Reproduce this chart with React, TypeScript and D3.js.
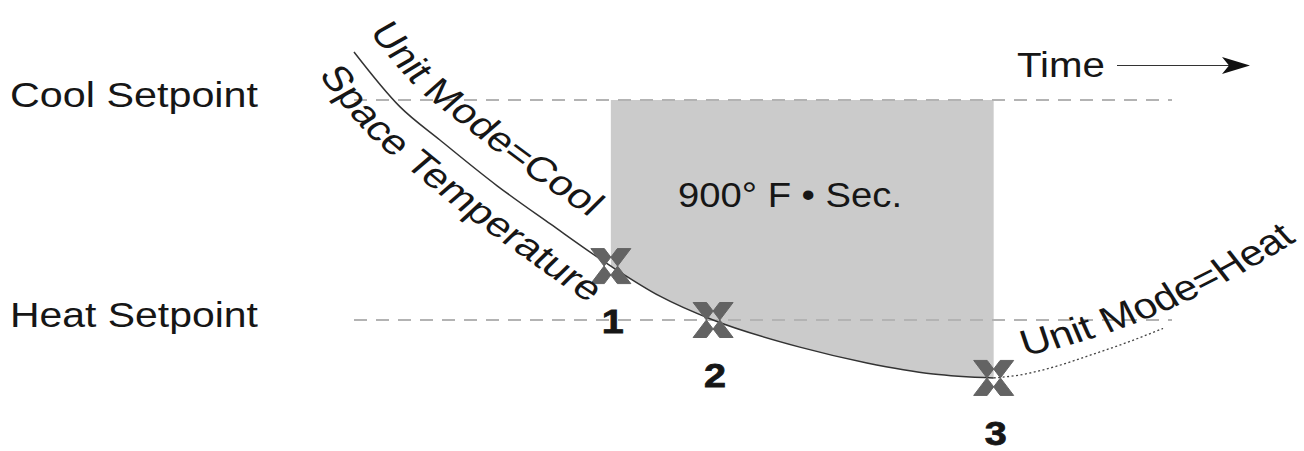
import React, { useEffect, useRef } from "react";
import * as d3 from "d3";

const WIDTH = 1304;
const HEIGHT = 451;

// Setpoints (°F)
const setpointLabels = ["Cool Setpoint", "Heat Setpoint"];
const setpointTemps = [74, 68];

// Space temperature while unit mode = cool (time in s, temperature in °F)
const coolModeTime = [0, 5.6, 10.5, 17.5, 24.0, 31.4, 37.4, 43.9, 54.5, 62.7, 70.8, 78.2];
const coolModeTemp = [75.31, 73.82, 72.91, 71.66, 70.62, 69.47, 68.65, 68.0, 67.26, 66.83, 66.53, 66.42];
// Space temperature after switching to unit mode = heat
const heatModeTime = [78.2, 81.4, 85.1, 90.0, 94.9, 98.9];
const heatModeTemp = [66.42, 66.5, 66.69, 67.04, 67.42, 67.77];

// Events
const eventLabels = ["1", "2", "3"];
const eventTimes = [31.4, 43.9, 78.2];
const eventTemps = [69.47, 68.0, 66.42];

const areaLabel = "900° F • Sec.";
const timeLabel = "Time";
const coolCurveLabel = "Unit Mode=Cool";
const tempCurveLabel = "Space Temperature";
const heatCurveLabel = "Unit Mode=Heat";

// annotation guide for the heat label (time, temp): start, control, end
const heatLabelGuideTime = [82, 98.5, 115.4];
const heatLabelGuideTemp = [67.02, 67.78, 70.18];

const FONT = '"Liberation Sans", Arial, Helvetica, sans-serif';
const SX = 1.2; // horizontal glyph stretch of the original artwork

export default function App() {
  const ref = useRef<SVGSVGElement>(null);

  useEffect(() => {
    const svg = d3.select(ref.current as SVGSVGElement);
    svg.selectAll("*").remove();

    const x = d3.scaleLinear().domain([0, 100]).range([354, 1172]);
    const y = d3.scaleLinear().domain([68, 74]).range([320, 100]);

    const defs = svg.append("defs");
    defs
      .append("clipPath")
      .attr("id", "shade-clip")
      .append("rect")
      .attr("x", x(eventTimes[0]))
      .attr("y", 0)
      .attr("width", x(eventTimes[2]) - x(eventTimes[0]) + 1)
      .attr("height", HEIGHT);

    const coolData: [number, number][] = coolModeTime.map((t, i) => [t, coolModeTemp[i]]);
    const heatData: [number, number][] = heatModeTime.map((t, i) => [t, heatModeTemp[i]]);

    // shaded area
    const area = d3
      .area<[number, number]>()
      .x((d) => x(d[0]))
      .y0(y(setpointTemps[0]))
      .y1((d) => y(d[1]))
      .curve(d3.curveMonotoneX);
    svg
      .append("path")
      .attr("d", area(coolData) as string)
      .attr("fill", "#cbcbcb")
      .attr("clip-path", "url(#shade-clip)");

    const hText = (
      label: string,
      px: number,
      py: number,
      size: number,
      len: number,
      weight = "normal",
      anchor = "start"
    ) =>
      svg
        .append("text")
        .attr("x", px)
        .attr("y", py)
        .attr("font-family", FONT)
        .attr("font-size", size)
        .attr("font-weight", weight)
        .attr("text-anchor", anchor)
        .attr("textLength", len)
        .attr("lengthAdjust", "spacingAndGlyphs")
        .attr("fill", "#161616")
        .text(label);

    // setpoint lines + labels
    setpointTemps.forEach((temp, i) => {
      svg
        .append("line")
        .attr("x1", x(0))
        .attr("x2", x(100))
        .attr("y1", y(temp))
        .attr("y2", y(temp))
        .attr("stroke", "#b3b3b3")
        .attr("stroke-width", 2)
        .attr("stroke-dasharray", "13 9");
      hText(setpointLabels[i], 10, y(temp) + 6.5, 35, 248);
    });

    // area label
    hText(areaLabel, 678, 207, 35, 224);

    // curves
    const line = d3
      .line<[number, number]>()
      .x((d) => x(d[0]))
      .y((d) => y(d[1]))
      .curve(d3.curveMonotoneX);
    const solid = svg
      .append("path")
      .attr("d", line(coolData) as string)
      .attr("fill", "none")
      .attr("stroke", "#333")
      .attr("stroke-width", 1.5);
    svg
      .append("path")
      .attr("d", line(heatData) as string)
      .attr("fill", "none")
      .attr("stroke", "#444")
      .attr("stroke-width", 1.3)
      .attr("stroke-dasharray", "2 2.5");

    // markers
    const xs = 20,
      ys = 17.5,
      aw = 13.5;
    const xShape = `M${-xs},${-ys}L${-xs + aw},${-ys}L${xs},${ys}L${xs - aw},${ys}Z M${xs},${-ys}L${xs - aw},${-ys}L${-xs},${ys}L${-xs + aw},${ys}Z`;
    eventTimes.forEach((t, i) => {
      svg
        .append("path")
        .attr("d", xShape)
        .attr("transform", `translate(${x(t)},${y(eventTemps[i])})`)
        .attr("fill", "#636363")
        .attr("stroke", "#636363")
        .attr("stroke-width", 1)
        .attr("stroke-linejoin", "round");
      hText(eventLabels[i], x(t) + 2, y(eventTemps[i]) + 67, 34, 22, "bold", "middle")
        .attr("stroke", "#161616")
        .attr("stroke-width", 0.8);
    });

    // time arrow
    hText(timeLabel, 1017, 77, 35, 88);
    svg
      .append("line")
      .attr("x1", 1117)
      .attr("x2", 1232)
      .attr("y1", 65.5)
      .attr("y2", 65.5)
      .attr("stroke", "#333")
      .attr("stroke-width", 1.2);
    svg
      .append("path")
      .attr("d", "M1250,65.5L1222,57L1229,65.5L1222,74Z")
      .attr("fill", "#111");

    // curved labels
    const node = solid.node() as SVGPathElement;
    const L = node.getTotalLength();
    const clamp = (s: number) => Math.max(0, Math.min(L, s));
    const T = (s: number) => {
      const a = node.getPointAtLength(clamp(s - 1));
      const b = node.getPointAtLength(clamp(s + 1));
      const dx = b.x - a.x,
        dy = b.y - a.y;
      const n = Math.hypot(dx, dy) || 1;
      return [dx / n, dy / n];
    };
    const P = (s: number) => {
      const c = clamp(s);
      const p = node.getPointAtLength(c);
      const tg = T(c);
      return [p.x + (s - c) * tg[0], p.y + (s - c) * tg[1]];
    };
    const sAtX = (px: number) => {
      let lo = 0,
        hi = L;
      for (let k = 0; k < 40; k++) {
        const mid = (lo + hi) / 2;
        if (node.getPointAtLength(mid).x < px) lo = mid;
        else hi = mid;
      }
      return (lo + hi) / 2;
    };
    const offsetPts = (s0: number, s1: number, d0: number, d1: number) => {
      const pts: [number, number][] = [];
      const n = Math.ceil((s1 - s0) / 2);
      for (let i = 0; i <= n; i++) {
        const s = s0 + ((s1 - s0) * i) / n;
        const d = d0 + ((d1 - d0) * i) / n;
        const p = P(s);
        const tg = T(clamp(s));
        pts.push([p[0] + d * tg[1], p[1] - d * tg[0]]);
      }
      return pts;
    };

    // curved text is laid out in an unstretched frame and then stretched like the artwork
    const stretched = svg.append("g").attr("transform", `scale(${SX},1)`);
    const plain = d3.line();
    const curvedText = (id: string, pts: [number, number][], label: string, size: number) => {
      const local = pts.map((p) => [p[0] / SX, p[1]] as [number, number]);
      const p = defs.append("path").attr("id", id).attr("d", plain(local) as string);
      const len = (p.node() as SVGPathElement).getTotalLength();
      const t = stretched
        .append("text")
        .attr("font-family", FONT)
        .attr("font-size", size)
        .attr("fill", "#161616");
      t.append("textPath")
        .attr("href", `#${id}`)
        .attr("textLength", len - 1)
        .attr("lengthAdjust", "spacingAndGlyphs")
        .text(label);
    };

    curvedText("cool-label-path", offsetPts(-7, sAtX(574), 24, 28), coolCurveLabel, 34);
    curvedText(
      "temp-label-path",
      offsetPts(-4, sAtX(x(eventTimes[0])) + 3, -42, -43),
      tempCurveLabel,
      34
    );
    const heatPts: [number, number][] = [];
    const p0 = [x(heatLabelGuideTime[0]), y(heatLabelGuideTemp[0])];
    const p1 = [x(heatLabelGuideTime[1]), y(heatLabelGuideTemp[1])];
    const p2 = [x(heatLabelGuideTime[2]), y(heatLabelGuideTemp[2])];
    for (let i = 0; i <= 60; i++) {
      const u = i / 60;
      const a = (1 - u) * (1 - u),
        b = 2 * u * (1 - u),
        c = u * u;
      heatPts.push([a * p0[0] + b * p1[0] + c * p2[0], a * p0[1] + b * p1[1] + c * p2[1]]);
    }
    curvedText("heat-label-path", heatPts, heatCurveLabel, 36);
  }, []);

  return (
    <svg
      ref={ref}
      width={WIDTH}
      height={HEIGHT}
      style={{ position: "absolute", left: 0, top: 0, background: "#fff" }}
    />
  );
}
